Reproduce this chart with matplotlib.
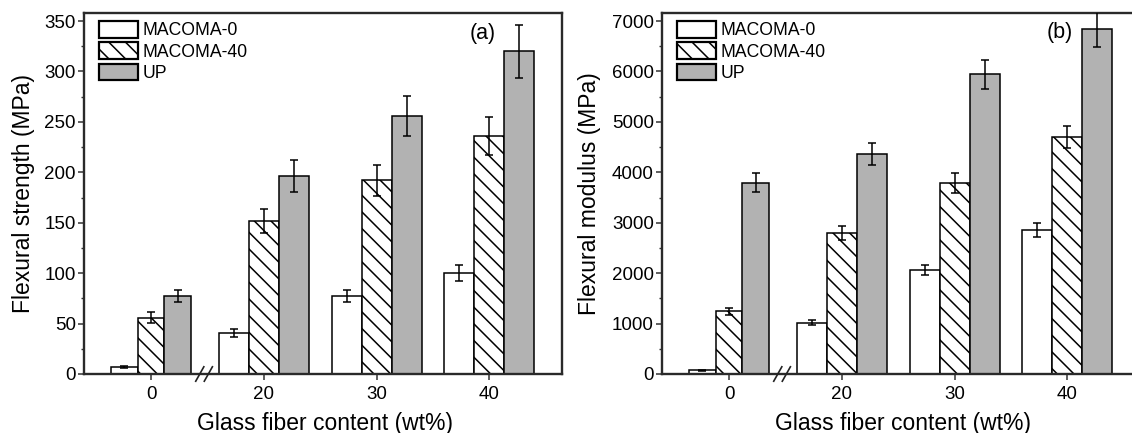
import matplotlib
matplotlib.use("Agg")
import matplotlib.pyplot as plt
import numpy as np

plt.rcParams['font.family'] = ['Liberation Sans', 'DejaVu Sans']
plt.rcParams['hatch.linewidth'] = 1.1

# ---- data ----
categories = ["0", "20", "30", "40"]
series = ["MACOMA-0", "MACOMA-40", "UP"]

strength_macoma0 = [7, 41, 77, 100]
strength_macoma0_err = [1, 4, 6, 8]
strength_macoma40 = [56, 152, 192, 236]
strength_macoma40_err = [5, 12, 15, 19]
strength_up = [77, 196, 256, 320]
strength_up_err = [6, 16, 20, 26]

modulus_macoma0 = [75, 1015, 2060, 2855]
modulus_macoma0_err = [10, 50, 100, 145]
modulus_macoma40 = [1245, 2800, 3790, 4700]
modulus_macoma40_err = [65, 140, 195, 225]
modulus_up = [3790, 4370, 5945, 6835]
modulus_up_err = [190, 215, 290, 345]

strength_ticks = [0, 50, 100, 150, 200, 250, 300, 350]
modulus_ticks = [0, 1000, 2000, 3000, 4000, 5000, 6000, 7000]

W, H = 1132, 433
fig = plt.figure(figsize=(W / 100, H / 100), dpi=100)

def px_axes(left, top, right, bottom):
    return fig.add_axes([left / W, 1 - bottom / H, (right - left) / W, (bottom - top) / H])

ax1 = px_axes(84, 13, 562, 374)
ax2 = px_axes(662, 13, 1140, 374)

styles = [
    dict(color="white", hatch=None),
    dict(color="white", hatch="\\\\"),
    dict(color="#b2b2b2", hatch=None),
]

def draw(ax, vals, errs, ticks, ymax, ylabel, tag, label_x, tag_x, tag_y):
    x = np.arange(len(categories))
    widths = np.array([0.237 if i == 0 else 0.266 for i in range(len(categories))])
    handles = []
    for k, (v, e) in enumerate(zip(vals, errs)):
        pos = x + (k - 1) * widths
        b = ax.bar(pos, v, width=widths, color=styles[k]["color"], hatch=styles[k]["hatch"],
                   edgecolor="black", linewidth=1.1, label=series[k], zorder=2)
        ax.errorbar(pos, v, yerr=e, fmt="none", ecolor="black", elinewidth=1.1,
                    capsize=3, capthick=1.1, zorder=3)
        handles.append(b)
    ax.set_xlim(-0.595, 3.645)
    ax.set_ylim(0, ymax)
    ax.set_xticks(x)
    ax.set_xticklabels(categories)
    ax.set_yticks(ticks)
    minor = [(a + b) / 2 for a, b in zip(ticks[:-1], ticks[1:])]
    ax.set_yticks(minor, minor=True)
    ax.tick_params(axis="both", which="major", direction="out", length=4.3, width=1.1,
                   labelsize=13.5, color="#333333")
    ax.tick_params(axis="y", which="minor", direction="out", length=2.5, width=1.0, color="#333333")
    ax.tick_params(axis="x", pad=4.5)
    ax.tick_params(axis="y", pad=1.5)
    for s in ax.spines.values():
        s.set_linewidth(1.7)
        s.set_color("#2a2a2a")
    ax.set_ylabel(ylabel, fontsize=16.5)
    ax.yaxis.set_label_coords(label_x, 0.5)
    ax.set_xlabel("Glass fiber content (wt%)", fontsize=16.5)
    ax.xaxis.set_label_coords(0.505, -0.105)
    ax.text(tag_x, tag_y, tag, transform=ax.transAxes, ha="center", va="center", fontsize=15.5)
    leg = ax.legend(handles=handles, loc="upper left", bbox_to_anchor=(0.031, 0.978),
                    frameon=False, fontsize=12.7, handlelength=2.2, handleheight=1.1,
                    handletextpad=0.28, labelspacing=0.16, borderpad=0, borderaxespad=0)
    for p in leg.get_patches():
        p.set_linewidth(1.6)
    # axis break marks
    tr = ax.get_xaxis_transform()
    xb = 0.47
    for off in (-0.038, 0.038):
        ax.plot([xb + off - 0.036, xb + off + 0.036], [-0.02, 0.02], transform=tr,
                color="#222222", linewidth=1.2, clip_on=False, zorder=5)

draw(ax1, [strength_macoma0, strength_macoma40, strength_up],
     [strength_macoma0_err, strength_macoma40_err, strength_up_err],
     strength_ticks, 358, "Flexural strength (MPa)", "(a)", -0.102, 0.834, 0.942)
draw(ax2, [modulus_macoma0, modulus_macoma40, modulus_up],
     [modulus_macoma0_err, modulus_macoma40_err, modulus_up_err],
     modulus_ticks, 7160, "Flexural modulus (MPa)", "(b)", -0.128, 0.832, 0.946)

fig.savefig("out.png", dpi=100)
